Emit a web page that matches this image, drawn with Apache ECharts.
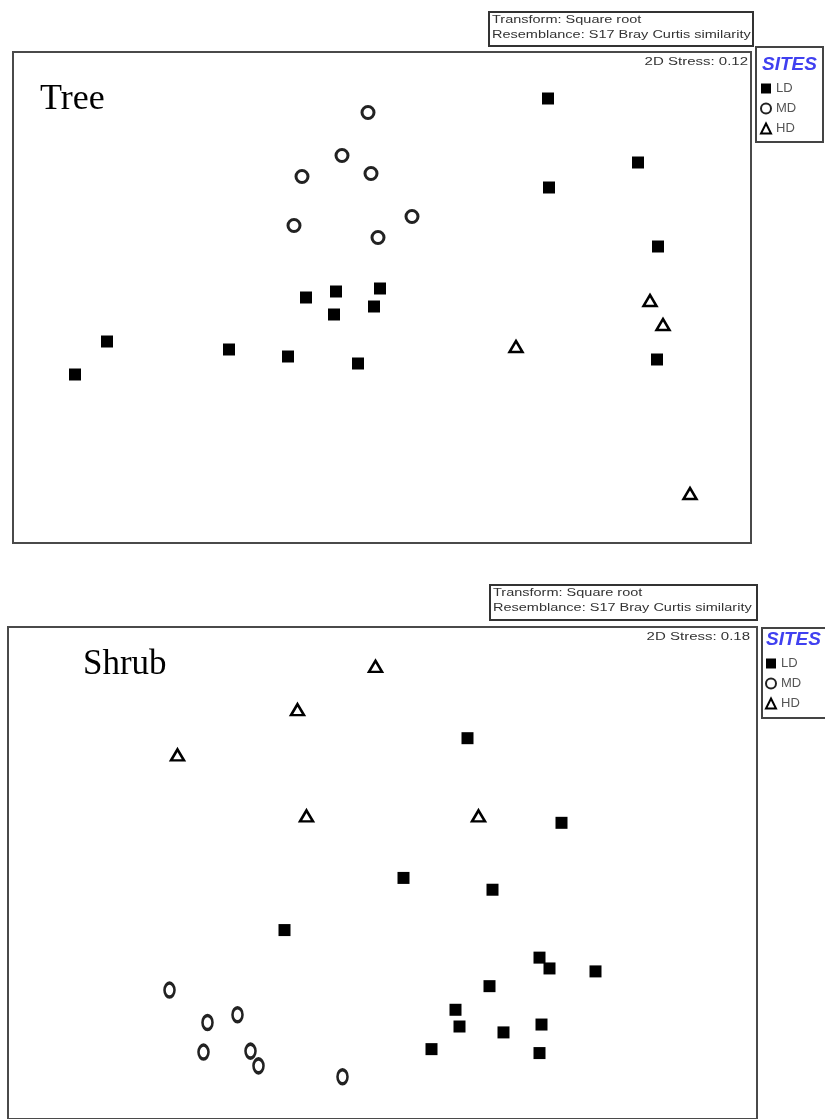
<!DOCTYPE html>
<html>
<head>
<meta charset="utf-8">
<title>MDS - Tree / Shrub</title>
<script src="https://cdn.jsdelivr.net/npm/echarts@6/dist/echarts.min.js"></script>
<style>
  html, body { margin: 0; padding: 0; background: #fff; }
  #chart { width: 825px; height: 1119px; }
</style>
</head>
<body>
<div id="chart"></div>
<script>
// nMDS ordination coordinates (arbitrary units)
const siteNames = ['LD', 'MD', 'HD'];

const treeLD = [[1.66,1.99],[2.56,1.35],[1.67,1.10],[2.76,0.51],[2.75,-0.62],[-0.76,0.00],[-0.46,0.06],
  [-0.02,0.09],[-0.48,-0.17],[-0.08,-0.09],[-2.75,-0.44],[-3.07,-0.77],[-1.53,-0.52],[-0.94,-0.59],[-0.24,-0.66]];
const treeMD = [[-0.14,1.85],[-0.40,1.42],[-0.80,1.21],[-0.11,1.24],[0.30,0.81],[-0.88,0.72],[-0.04,0.60]];
const treeHD = [[2.68,-0.03],[2.81,-0.27],[1.34,-0.49],[3.08,-1.96]];

const shrubLD = [[0.85,1.37],[1.79,0.51],[0.21,-0.05],[1.10,-0.17],[-0.98,-0.58],[1.57,-0.86],[1.67,-0.97],
  [2.13,-1.00],[1.07,-1.15],[0.73,-1.39],[0.77,-1.56],[1.21,-1.62],[1.59,-1.54],[0.49,-1.79],[1.57,-1.83]];
const shrubMD = [[-2.13,-1.19],[-1.75,-1.52],[-1.45,-1.44],[-1.79,-1.82],[-1.32,-1.81],[-1.24,-1.96],[-0.40,-2.07]];
const shrubHD = [[-0.07,2.10],[-0.85,1.66],[-2.05,1.20],[-0.76,0.58],[0.96,0.58]];

const panelTitles = ['Tree', 'Shrub'];
const stressLabels = ['2D Stress: 0.12', '2D Stress: 0.18'];
const noteLines = ['Transform: Square root', 'Resemblance: S17 Bray Curtis similarity'];

const SANS = "'Liberation Sans', Arial, sans-serif";
const SERIF = "'Liberation Serif', 'Times New Roman', serif";

const chart = echarts.init(document.getElementById('chart'));

function ld(name, data, idx){
    return { name: name, type: 'scatter', xAxisIndex: idx, yAxisIndex: idx, data: data,
        symbol: 'rect', symbolSize: 12, itemStyle: { color: '#000', opacity: 1 }, silent: true };
}
function md(name, data, idx, size){
    return { name: name, type: 'scatter', xAxisIndex: idx, yAxisIndex: idx, data: data,
        symbol: 'circle', symbolSize: size, itemStyle: { color: '#fff', borderColor: '#222', borderWidth: 3, opacity: 1 }, silent: true };
}
function hd(name, data, idx){
    return { name: name, type: 'scatter', xAxisIndex: idx, yAxisIndex: idx, data: data,
        symbol: 'triangle', symbolSize: [13, 11], itemStyle: { color: '#fff', borderColor: '#000', borderWidth: 2.5, opacity: 1 }, silent: true };
}

function axis(min, max, idx){
    return { type: 'value', min: min, max: max, gridIndex: idx, show: false, splitLine: { show: false } };
}

function legendFor(left, top){
    return {
        left: left, top: top, orient: 'vertical', data: siteNames, selectedMode: false,
        itemWidth: 10, itemHeight: 10, itemGap: 7,
        textStyle: { fontSize: 13, color: '#555', fontFamily: SANS }
    };
}

function noteBox(x, y, w, h){
    return [
        { type: 'rect', shape: { x: x, y: y, width: w, height: h }, style: { fill: '#fff', stroke: '#333', lineWidth: 2 } },
        { type: 'text', x: x + 3, y: y + 8, scaleX: 1.45,
          style: { text: noteLines[0], font: '10px ' + SANS, fill: '#333', textVerticalAlign: 'middle' } },
        { type: 'text', x: x + 3, y: y + 23, scaleX: 1.45,
          style: { text: noteLines[1], font: '10px ' + SANS, fill: '#333', textVerticalAlign: 'middle' } }
    ];
}

const graphics = []
    .concat(noteBox(489, 12, 264, 34))
    .concat(noteBox(490, 585, 267, 35))
    .concat([
        { type: 'text', x: 748, y: 62, scaleX: 1.5,
          style: { text: stressLabels[0], font: '10px ' + SANS, fill: '#333', textAlign: 'right', textVerticalAlign: 'middle' } },
        { type: 'text', x: 750, y: 637, scaleX: 1.5,
          style: { text: stressLabels[1], font: '10px ' + SANS, fill: '#333', textAlign: 'right', textVerticalAlign: 'middle' } },
        { type: 'text', x: 40, y: 100,
          style: { text: panelTitles[0], font: '36px ' + SERIF, fill: '#000', textVerticalAlign: 'middle' } },
        { type: 'text', x: 83, y: 665,
          style: { text: panelTitles[1], font: '35px ' + SERIF, fill: '#000', textVerticalAlign: 'middle' } },
        // legend frames + SITES header
        { type: 'rect', shape: { x: 756, y: 47, width: 67, height: 95 }, style: { fill: 'none', stroke: '#444', lineWidth: 2 } },
        { type: 'rect', shape: { x: 762, y: 628, width: 70, height: 90 }, style: { fill: 'none', stroke: '#444', lineWidth: 2 } },
        { type: 'text', x: 762, y: 65,
          style: { text: 'SITES', font: 'italic bold 19px ' + SANS, fill: '#4040f0', textVerticalAlign: 'middle' } },
        { type: 'text', x: 766, y: 640,
          style: { text: 'SITES', font: 'italic bold 19px ' + SANS, fill: '#4040f0', textVerticalAlign: 'middle' } }
    ]);

const option = {
    animation: false,
    backgroundColor: '#fff',
    grid: [
        { left: 13, top: 52, width: 738, height: 491, show: true, borderColor: '#4a4a4a', borderWidth: 2, backgroundColor: 'transparent' },
        { left: 8, top: 627, width: 749, height: 500, show: true, borderColor: '#4a4a4a', borderWidth: 2, backgroundColor: 'transparent' }
    ],
    xAxis: [axis(-3.69, 3.69, 0), axis(-3.745, 3.745, 1)],
    yAxis: [axis(-2.455, 2.455, 0), axis(-2.5, 2.5, 1)],
    legend: [legendFor(755, 77), legendFor(760, 652)],
    series: [
        ld('LD', treeLD, 0), md('MD', treeMD, 0, 12), hd('HD', treeHD, 0),
        ld('LD', shrubLD, 1), md('MD', shrubMD, 1, [10, 14]), hd('HD', shrubHD, 1)
    ],
    graphic: graphics
};
chart.setOption(option);
</script>
</body>
</html>
